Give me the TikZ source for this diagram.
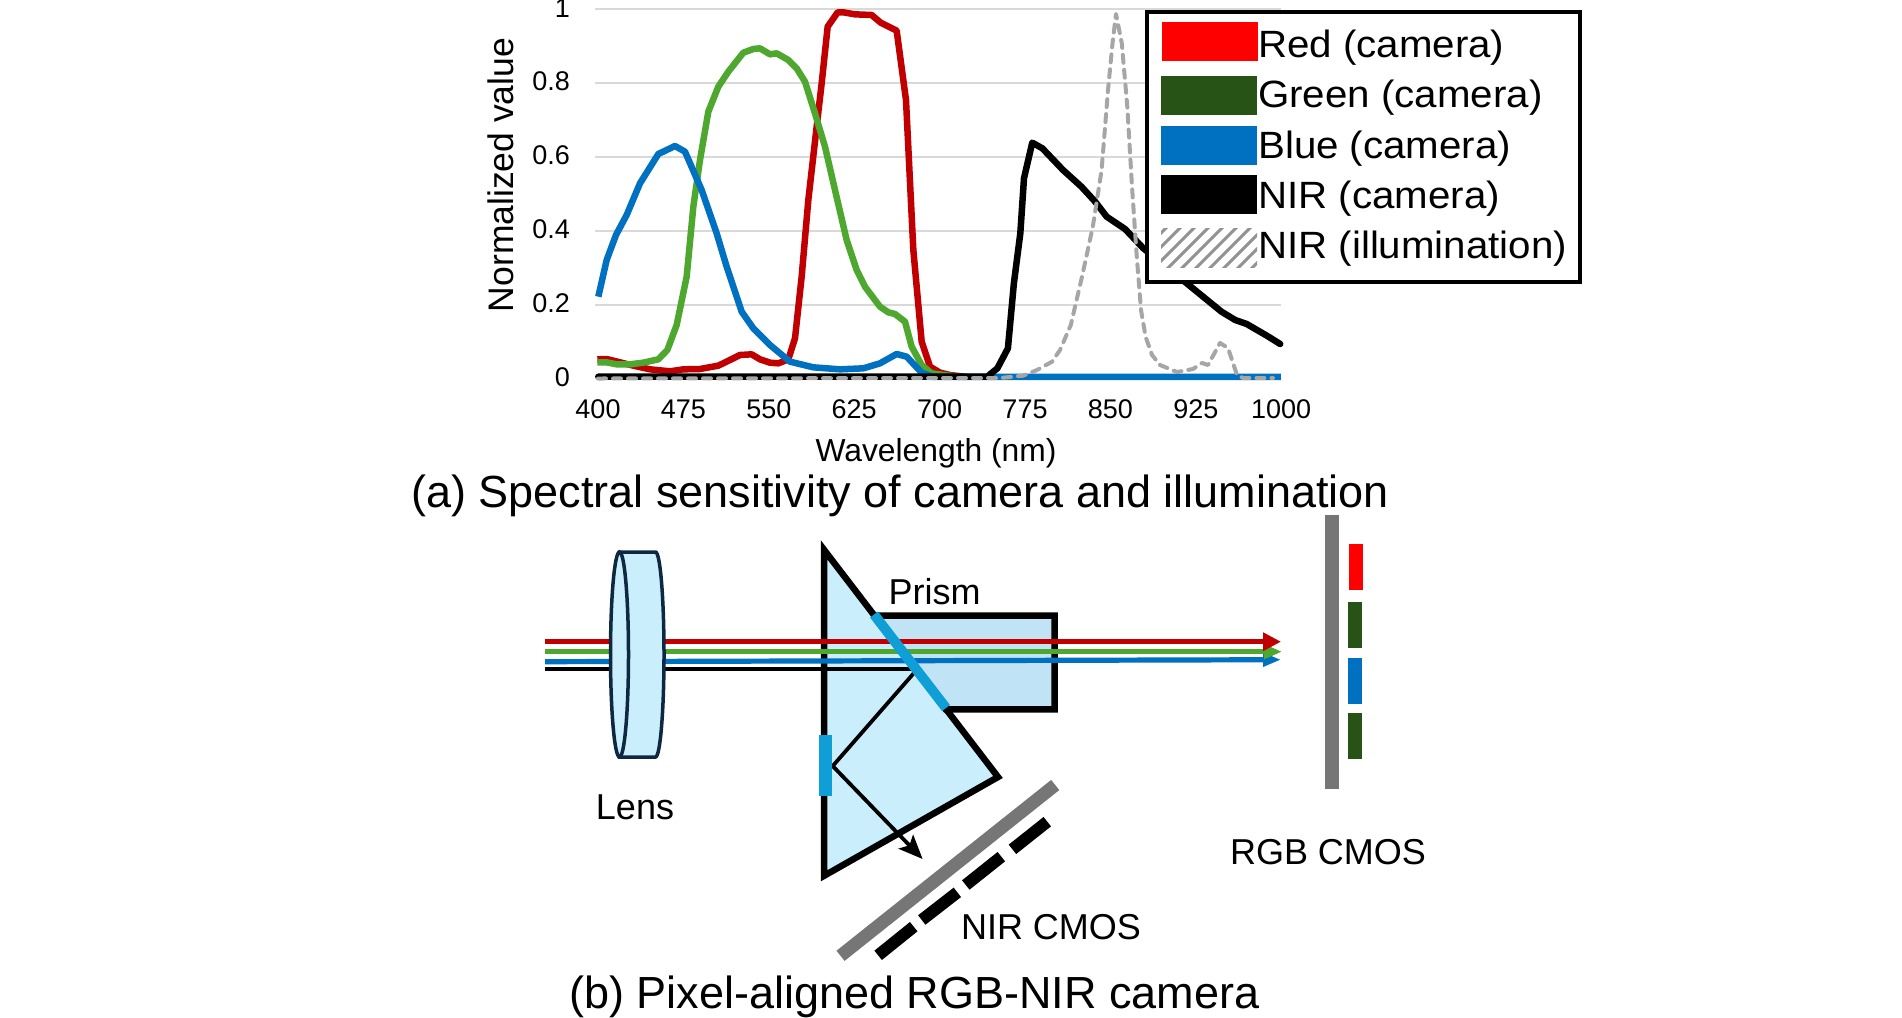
\documentclass[tikz,border=0pt]{standalone}
\usepackage{fontspec}
\setmainfont{Liberation Sans}
\newfontfamily\legendfont[FakeStretch=1.06]{Liberation Sans}
\usetikzlibrary{arrows.meta}
\definecolor{cRed}{HTML}{C00000}
\definecolor{cGreen}{HTML}{4EA72E}
\definecolor{cBlue}{HTML}{0070C0}
\definecolor{cGrid}{HTML}{D9D9D9}
\definecolor{cDash}{HTML}{A6A6A6}
\definecolor{cSwG}{HTML}{275317}
\definecolor{cPrism}{HTML}{CAEEFB}
\definecolor{cBox}{HTML}{C0E4F5}
\definecolor{cSplit}{HTML}{0F9ED5}
\definecolor{cSensor}{HTML}{767676}
\definecolor{cLens}{HTML}{0E2841}
\newcommand{\fs}[1]{\fontsize{#1}{#1}\selectfont}
\tikzset{
  curve/.style={line width=6.5pt,line join=round},
  lbl/.style={inner sep=0pt,anchor=base},
  ticklbl/.style={lbl,font=\fs{27}},
  ytick/.style={lbl,anchor=base east,font=\fs{27}},
  leg/.style={inner sep=0pt,anchor=base west,font=\legendfont\fs{38}},
  diag/.style={lbl,font=\fs{36}},
  captext/.style={lbl,font=\fs{45}},
  ray/.style={line width=5.2pt},
  z1/.style={x=0.33333pt,y=-0.33333pt,shift={(1380,0)}},
  z2/.style={x=0.45918pt,y=-0.33333pt,shift={(1960,0)}},
  z3/.style={x=0.38265pt,y=-0.33333pt,shift={(1358.9,1530)}}
}
\begin{document}
\begin{tikzpicture}[x=1pt,y=-1pt]
\useasboundingbox (0,0) rectangle (1902,1017);
% grid
\foreach \v in {9,83,157,231,305}{\draw[cGrid,line width=2pt] (595,\v) -- (1281,\v);}
% tick labels
\foreach \l/\b in {1/17,0.8/90,0.6/164,0.4/238,0.2/312,0/386}{\node[ytick] (yt\l) at (570,\b) {\l};}
\foreach \l [count=\i from 0] in {400,475,550,625,700,775,850,925,1000}{\node[ticklbl] (xt\l) at ({598+85.4*\i},418) {\l};}
\node[lbl,rotate=90,anchor=base,font=\fs{35.5}] (ylab) at (513,175) {Normalized value};
\node[lbl,font=\fs{31.8}] (xlab) at (936,461) {Wavelength (nm)};
\node[captext] (capa) at (900,507) {(a) Spectral sensitivity of camera and illumination};
% curves
\begin{scope}[z1]
\draw[curve,cRed] (412,1078)--(440,1077)--(480,1087)--(520,1097)--(570,1108)--(630,1114)--(670,1108)--(720,1107)--(775,1097)--(810,1080)--(840,1065)--(875,1063)--(900,1078)--(930,1088)--(955,1090)--(985,1078)--(1005,1015)--(1025,830)--(1045,600)--(1070,380)--(1085,250)--(1103,80)--(1133,37)--(1150,37)--(1185,43)--(1235,45)--(1262,68)--(1310,92)--(1338,300)--(1360,750)--(1385,1025)--(1410,1100)--(1440,1118)--(1470,1125)--(1520,1131);
\draw[curve,cGreen] (412,1087)--(440,1087)--(470,1093)--(510,1093)--(550,1088)--(595,1078)--(622,1050)--(650,975)--(680,830)--(700,620)--(720,480)--(745,335)--(775,260)--(805,215)--(850,158)--(880,147)--(900,145)--(930,163)--(950,160)--(985,180)--(1010,205)--(1035,245)--(1065,340)--(1095,440)--(1125,570)--(1160,720)--(1190,810)--(1215,860)--(1260,920)--(1285,937)--(1305,942)--(1335,965)--(1355,1040)--(1385,1095)--(1415,1120)--(1450,1125)--(1500,1131);
\draw[curve,cBlue] (415,890)--(440,780)--(468,705)--(500,645)--(540,550)--(595,462)--(645,438)--(675,455)--(725,570)--(770,700)--(800,800)--(845,935)--(880,985)--(930,1035)--(990,1085)--(1060,1102)--(1140,1108)--(1210,1105)--(1260,1090)--(1310,1062)--(1340,1070)--(1385,1118)--(1420,1131)--(2463,1131);
\end{scope}
\begin{scope}[z2]
\draw[curve,black,line cap=round] (-657,1130)--(190,1130)--(212,1105)--(235,1045)--(248,850)--(262,700)--(270,535)--(288,428)--(310,445)--(355,510)--(395,560)--(425,605)--(450,650)--(490,687)--(530,745)--(620,845)--(660,890)--(700,935)--(730,960)--(755,972)--(800,1008)--(828,1032);
\end{scope}
\draw[cDash,line width=4pt,line cap=round,line join=round,dash pattern=on 8pt off 7pt] (598,378.5)--(1000,378)--(1023,375.7)--(1037,370)--(1052,361.7)--(1060,350)--(1070.8,325)--(1082,276.7)--(1092.8,226.7)--(1101.6,170)--(1108,90)--(1112.5,43.3)--(1116,14)--(1121.8,43.3)--(1127.3,106.7)--(1132,186.7)--(1136.5,253)--(1141,310)--(1145.6,336.7)--(1152,355)--(1160,365)--(1177,372)--(1193,369)--(1202,363)--(1208,365)--(1220,343)--(1228,348)--(1237,375)--(1243,378)--(1273,378);
% legend
\node[draw=black,fill=white,line width=4pt,minimum width=433pt,minimum height=270pt,inner sep=0pt] (legend) at (1363,146.5) {};
\path[fill=red] (1162,22) rectangle (1258,61);
\path[fill=cSwG] (1161,76) rectangle (1257,115);
\path[fill=cBlue] (1161,126) rectangle (1257,165);
\path[fill=black] (1161,175) rectangle (1257,214);
\begin{scope}
\clip (1161,228) rectangle (1257,267);
\foreach \s in {0,14,...,154}{\draw[gray!85,line width=3pt] ({1119+\s},275) -- ({1172+\s},222);}
\end{scope}
\node[leg] (l1) at (1258,57.5) {Red (camera)};
\node[leg] (l2) at (1258,107.5) {Green (camera)};
\node[leg] (l3) at (1258,158) {Blue (camera)};
\node[leg] (l4) at (1258,208) {NIR (camera)};
\node[leg] (l5) at (1258,258) {NIR (illumination)};
% prism
\coordinate (pT) at (824.2,550);
\coordinate (pR) at (998,777);
\coordinate (pB) at (824.2,875.7);
\coordinate (bTL) at (875,615.7);
\coordinate (bTR) at (1054.6,615.7);
\coordinate (bBR) at (1054.6,709.3);
\coordinate (bBL) at (945.6,709.3);
\draw[black,fill=cPrism,line width=6.5pt,miter limit=10] (pT)--(pR)--(pB)--cycle;
\draw[black,fill=cBox,line width=6.5pt] (bTL)--(bTR)--(bBR)--(bBL)--cycle;
% rays
\coordinate (rA) at (545,641.7); \coordinate (rB) at (1281,641.7);
\coordinate (gA) at (545,651.7); \coordinate (gB) at (1282,651.7);
\coordinate (uA) at (545,661.7); \coordinate (uB) at (1281,659.7);
\coordinate (kA) at (545,669.3); \coordinate (kB) at (914,669.3);
\coordinate (kR) at (832.7,766); \coordinate (kT) at (922.6,859);
\draw[black,line width=4pt] (kA)--(kB);
\draw[black,line width=3.8pt] (914.2,672.7)--(kR);
\draw[black,line width=3.8pt,-{Stealth[length=24pt,width=20pt,inset=5pt]}] (kR)--(kT);
\draw[ray,cBlue,-{Triangle[length=18pt,width=13pt]}] (uA)--(uB);
\draw[ray,cGreen,-{Triangle[length=18pt,width=14pt]}] (gA)--(gB);
\draw[ray,cRed,-{Triangle[length=18pt,width=17.5pt]}] (rA)--(rB);
% splitter
\draw[cSplit,line width=10pt] (874,614.5)--(946,708);
\path[fill=cSplit] (818.5,735) rectangle (831.5,796);
% lens
\begin{scope}
\draw[cLens,fill=cPrism,line width=3.5pt] (619.5,552) -- (655.5,552) arc[start angle=90,end angle=-90,x radius=8.5pt,y radius=102.5pt] -- (619.5,757) -- cycle;
\draw[cLens,fill=cPrism,line width=3.5pt] (619.5,654.5) ellipse[x radius=9pt,y radius=102.5pt];
\end{scope}
% sensors
\path[fill=cSensor] (1325.3,515) rectangle (1338.7,788.7);
\path[fill=red] (1349.3,544) rectangle (1362.7,590);
\path[fill=cSwG] (1348.3,602) rectangle (1361.7,647.7);
\path[fill=cBlue] (1348.3,658) rectangle (1361.7,703.7);
\path[fill=cSwG] (1348.3,713) rectangle (1361.7,758.7);
\draw[cSensor,line width=13pt] (840.5,955.8)--(1055.2,785);
\begin{scope}[z3]
\draw[black,line width=12pt] (936,1336)--(1029,1250);
\draw[black,line width=12pt] (1050,1230)--(1143,1147);
\draw[black,line width=12pt] (1165,1125)--(1258,1040);
\draw[black,line width=12pt] (1287,1018)--(1378,935);
\end{scope}
% labels
\node[diag] (prism) at (934.5,604) {Prism};
\node[diag] (lens) at (635,819.3) {Lens};
\node[diag] (nir) at (1051,939) {NIR CMOS};
\node[diag] (rgb) at (1328,864.3) {RGB CMOS};
\node[captext] (capb) at (914.5,1008) {(b) Pixel-aligned RGB-NIR camera};
\end{tikzpicture}
\end{document}
